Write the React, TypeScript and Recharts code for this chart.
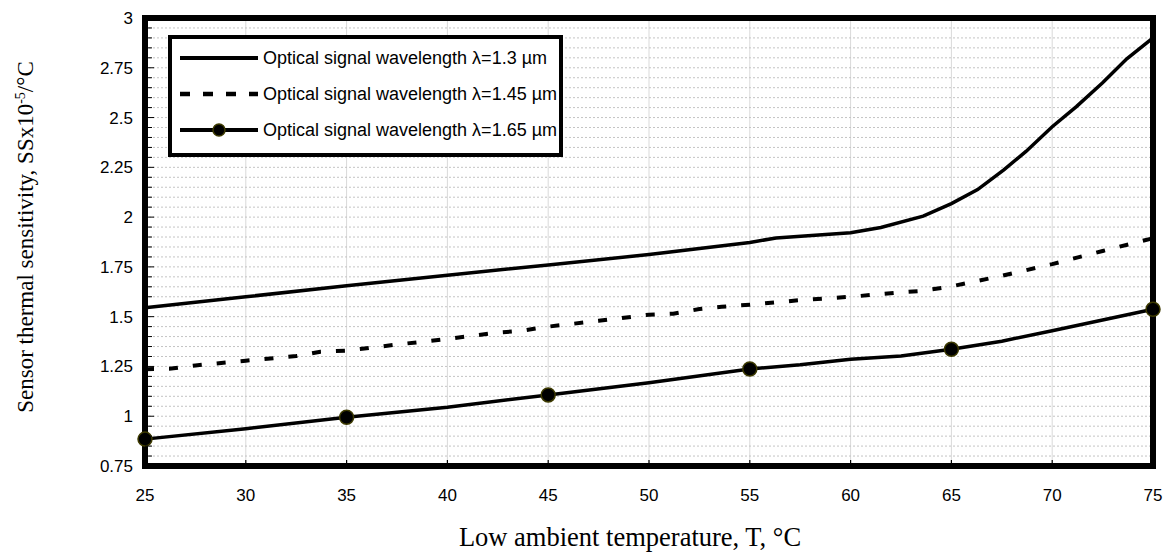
import React from 'react';
import {
    LineChart,
    Line,
    XAxis,
    YAxis,
    CartesianGrid,
    Legend,
} from 'recharts';

// temperature (°C) and sensor thermal sensitivity (x10^-5 /°C) per wavelength
const temps13 = [25, 30, 35, 40, 45, 50, 55, 56.3, 60, 61.5, 63.6, 65, 66.3, 67.6, 68.7, 70, 71.2, 72.5, 73.7, 75];
const ss13 = [1.545, 1.6, 1.655, 1.708, 1.76, 1.812, 1.873, 1.895, 1.922, 1.948, 2.005, 2.068, 2.138, 2.237, 2.33, 2.454, 2.555, 2.675, 2.795, 2.9];

const temps145 = [25, 26.2, 27.5, 30, 32.5, 33.7, 35, 37.5, 40, 42.5, 43.6, 45, 47.5, 50, 51.2, 52.5, 53.6, 55, 57.5, 60, 62.5, 63.6, 65, 67.5, 70, 72.5, 75];
const ss145 = [1.236, 1.238, 1.255, 1.279, 1.302, 1.324, 1.329, 1.36, 1.388, 1.42, 1.428, 1.45, 1.479, 1.51, 1.515, 1.538, 1.55, 1.56, 1.583, 1.6, 1.622, 1.63, 1.652, 1.705, 1.764, 1.83, 1.894];

const temps165 = [25, 30, 35, 40, 45, 50, 55, 57.5, 60, 62.5, 65, 67.5, 70, 72.5, 75];
const ss165 = [0.885, 0.937, 0.995, 1.045, 1.107, 1.168, 1.237, 1.258, 1.286, 1.302, 1.336, 1.377, 1.429, 1.483, 1.537];

const markerTemps = [25, 35, 45, 55, 65, 75];

const seriesNames = [
    'Optical signal wavelength λ=1.3 µm',
    'Optical signal wavelength λ=1.45 µm',
    'Optical signal wavelength λ=1.65 µm',
];

const xTicks = [25, 30, 35, 40, 45, 50, 55, 60, 65, 70, 75];
const yTicks = [0.75, 1, 1.25, 1.5, 1.75, 2, 2.25, 2.5, 2.75, 3];
// minor gridlines every 0.05
const yMinorTicks = Array.from({ length: 46 }, (_, i) => Math.round((0.75 + i * 0.05) * 100) / 100);

// grid only inside the frame
const xGridValues = xTicks.slice(1, -1);
const yGridValues = yMinorTicks.slice(1, -1);

const toRows = (temps: number[], vals: number[]) => temps.map((t, i) => ({ t, ss: vals[i] }));

const rows13 = toRows(temps13, ss13);
const rows145 = toRows(temps145, ss145);
const rows165 = toRows(temps165, ss165);

const sans = '"Liberation Sans", Arial, sans-serif';
const serif = '"Liberation Serif", "Times New Roman", serif';

const X_MARGIN = 23;
const Y_MARGIN = 12;
const frame = { stroke: '#000', strokeWidth: 6, strokeLinecap: 'square' as const };

const MarkerDot = (props: any) => {
    const { cx, cy, payload, index } = props;
    if (!markerTemps.includes(payload.t)) return <g key={`m-${index}`} />;
    return <circle key={`m-${index}`} cx={cx} cy={cy} r={7} fill="#000" stroke="#3d3a00" strokeWidth={1.5} />;
};

// label plus a short inward tick mark
const YTick = ({ x, y, payload }: any) => {
    const major = yTicks.includes(payload.value);
    const ax = x + Y_MARGIN;
    return (
        <g>
            <line x1={ax} x2={ax + (major ? 9 : 7)} y1={y} y2={y} stroke="#000" strokeWidth={1} />
            {major && (
                <text x={x} y={y} dy="0.355em" textAnchor="end" fill="#000" fontSize={17} fontFamily={sans}>
                    {payload.value}
                </text>
            )}
        </g>
    );
};

const XTick = ({ x, y, payload }: any) => {
    const ay = y - X_MARGIN;
    return (
        <g>
            <line x1={x} x2={x} y1={ay} y2={ay - 6} stroke="#000" strokeWidth={1.2} />
            <text x={x} y={y} dy="0.71em" textAnchor="middle" fill="#000" fontSize={17} fontFamily={sans}>
                {payload.value}
            </text>
        </g>
    );
};

const legendStyles = [
    { dash: undefined, width: 4, marker: false },
    { dash: '10 13', width: 4.5, marker: false },
    { dash: undefined, width: 4, marker: true },
];

const LegendBox = ({ payload }: any) => (
    <div
        style={{
            position: 'relative',
            width: 395,
            height: 122,
            boxSizing: 'border-box',
            border: '4px solid #000',
            background: '#fff',
            fontFamily: sans,
            fontSize: 18,
        }}
    >
        {(payload || []).map((entry: any, i: number) => {
            const st = legendStyles[i];
            const cy = 19 + i * 36;
            return (
                <div key={i} style={{ position: 'absolute', left: 0, top: cy - 12, height: 24, width: 390 }}>
                    <svg width={90} height={24} style={{ position: 'absolute', left: 8, top: 0 }}>
                        <line x1={0} y1={12} x2={78} y2={12} stroke="#000" strokeWidth={st.width} strokeDasharray={st.dash} />
                        {st.marker && <circle cx={39} cy={12} r={6} fill="#000" stroke="#3d3a00" strokeWidth={1.5} />}
                    </svg>
                    <span style={{ position: 'absolute', left: 91, top: 1, whiteSpace: 'nowrap', lineHeight: '22px' }}>
                        {entry.value}
                    </span>
                </div>
            );
        })}
    </div>
);

const SensitivityChart: React.FC = () => {
    return (
        <div style={{ position: 'absolute', left: 0, top: 0, width: 1167, height: 552, background: '#fff' }}>
            <LineChart width={1167} height={552} margin={{ top: 17, right: 13, left: 85, bottom: 46 }}>
                <CartesianGrid horizontal={false} verticalValues={xGridValues} stroke="#d9d9d9" strokeWidth={1} />
                <CartesianGrid
                    vertical={false}
                    horizontalValues={yGridValues}
                    stroke="#c4c4c4"
                    strokeDasharray="2 2"
                    strokeWidth={1}
                />
                <XAxis
                    dataKey="t"
                    type="number"
                    domain={[25, 75]}
                    ticks={xTicks}
                    height={40}
                    axisLine={frame}
                    tickLine={false}
                    tickSize={0}
                    tickMargin={X_MARGIN}
                    tick={<XTick />}
                />
                {/* top edge of the plot frame */}
                <XAxis
                    xAxisId="top"
                    orientation="top"
                    type="number"
                    domain={[25, 75]}
                    height={1}
                    axisLine={frame}
                    tickLine={false}
                    tick={false}
                />
                <YAxis
                    type="number"
                    domain={[0.75, 3]}
                    ticks={yMinorTicks}
                    interval={0}
                    width={60}
                    axisLine={frame}
                    tickLine={false}
                    tickSize={0}
                    tickMargin={Y_MARGIN}
                    tick={<YTick />}
                />
                {/* right edge of the plot frame */}
                <YAxis
                    yAxisId="right"
                    orientation="right"
                    type="number"
                    domain={[0.75, 3]}
                    width={1}
                    axisLine={frame}
                    tickLine={false}
                    tick={false}
                />
                <Legend
                    layout="vertical"
                    align="center"
                    verticalAlign="middle"
                    content={<LegendBox />}
                    wrapperStyle={{ position: 'absolute', left: 168, top: 35, width: 395, height: 122 }}
                />
                <Line
                    data={rows13}
                    dataKey="ss"
                    name={seriesNames[0]}
                    type="linear"
                    stroke="#000"
                    strokeWidth={3.5}
                    dot={false}
                    isAnimationActive={false}
                />
                <Line
                    data={rows145}
                    dataKey="ss"
                    name={seriesNames[1]}
                    type="linear"
                    stroke="#000"
                    strokeWidth={4}
                    strokeDasharray="9 15"
                    dot={false}
                    isAnimationActive={false}
                />
                <Line
                    data={rows165}
                    dataKey="ss"
                    name={seriesNames[2]}
                    type="linear"
                    stroke="#000"
                    strokeWidth={3.5}
                    dot={MarkerDot}
                    isAnimationActive={false}
                />
            </LineChart>
            <div
                style={{
                    position: 'absolute',
                    left: 26,
                    top: 237,
                    transform: 'translate(-50%, -50%) rotate(-90deg)',
                    whiteSpace: 'nowrap',
                    fontFamily: serif,
                    fontSize: 23,
                    color: '#000',
                }}
            >
                Sensor thermal sensitivity, SSx10<sup style={{ fontSize: 14 }}>-5</sup>/°C
            </div>
            <div
                style={{
                    position: 'absolute',
                    left: 630,
                    top: 537,
                    transform: 'translate(-50%, -50%)',
                    whiteSpace: 'nowrap',
                    fontFamily: serif,
                    fontSize: 26.5,
                    color: '#000',
                }}
            >
                Low ambient temperature, T, °C
            </div>
        </div>
    );
};

export default function App() {
    return <SensitivityChart />;
}
